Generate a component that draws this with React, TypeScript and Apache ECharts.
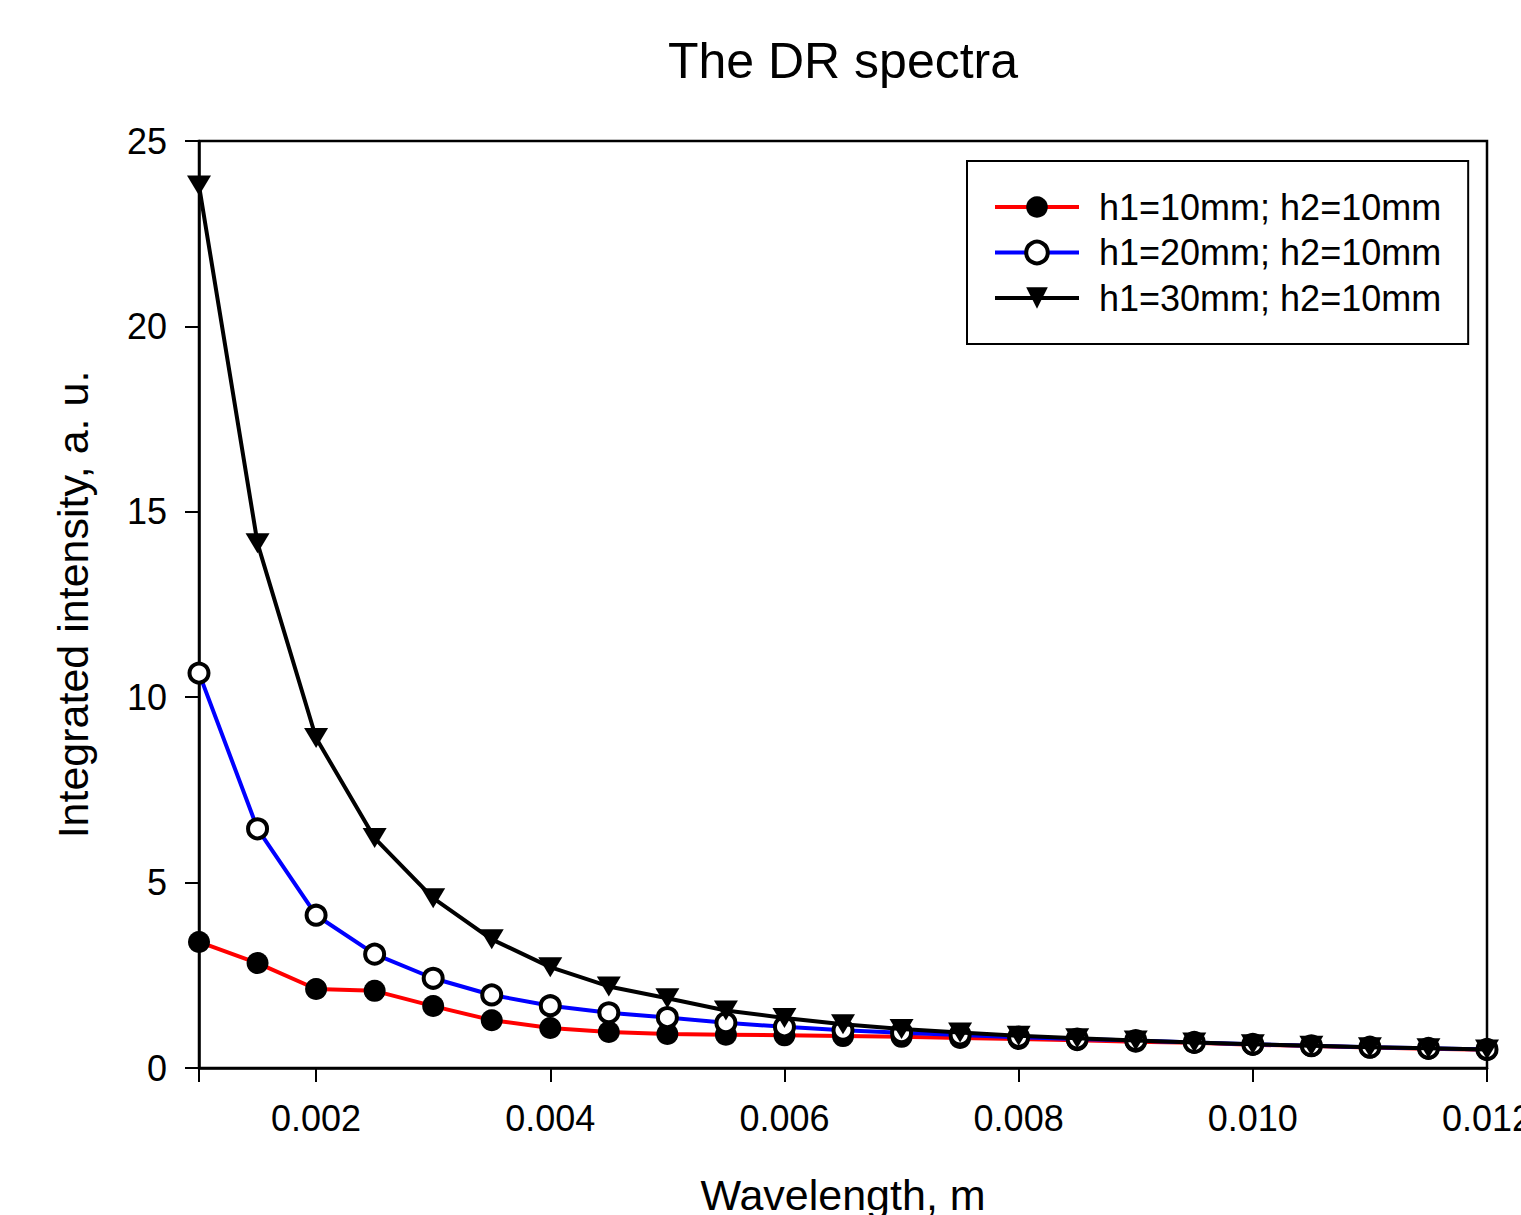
import React, { useEffect, useRef } from "react";
import * as echarts from "echarts";

const wavelengths = [
  0.001, 0.0015, 0.002, 0.0025, 0.003, 0.0035, 0.004, 0.0045, 0.005, 0.0055, 0.006, 0.0065,
  0.007, 0.0075, 0.008, 0.0085, 0.009, 0.0095, 0.01, 0.0105, 0.011, 0.0115, 0.012,
];
const h1_10 = [
  3.4, 2.83, 2.13, 2.08, 1.67, 1.29, 1.08, 0.97, 0.92, 0.9, 0.88, 0.86, 0.84, 0.81, 0.78, 0.75,
  0.71, 0.68, 0.63, 0.59, 0.55, 0.52, 0.49,
];
const h1_20 = [
  10.65, 6.45, 4.12, 3.07, 2.42, 1.97, 1.68, 1.49, 1.36, 1.22, 1.11, 1.02, 0.95, 0.89, 0.83,
  0.78, 0.74, 0.69, 0.64, 0.6, 0.56, 0.53, 0.5,
];
const h1_30 = [
  23.8, 14.15, 8.9, 6.2, 4.58, 3.47, 2.72, 2.2, 1.88, 1.55, 1.35, 1.18, 1.05, 0.96, 0.87, 0.8,
  0.74, 0.69, 0.64, 0.6, 0.56, 0.53, 0.5,
];
const seriesNames = ["h1=10mm; h2=10mm", "h1=20mm; h2=10mm", "h1=30mm; h2=10mm"];

const FONT = "Liberation Sans, Arial, sans-serif";

function pairs(ys: number[]) {
  return wavelengths.map((x, i) => [x, ys[i]]);
}

export default function App() {
  const ref = useRef<HTMLDivElement>(null);
  useEffect(() => {
    if (!ref.current) return;
    const chart = echarts.init(ref.current, null, { renderer: "svg" });
    chart.setOption({
      animation: false,
      backgroundColor: "#ffffff",
      title: {
        text: "The DR spectra",
        left: 843,
        top: 36,
        padding: 0,
        textAlign: "center",
        textStyle: { fontFamily: FONT, fontSize: 50, fontWeight: "normal", color: "#000" },
      },
      grid: {
        left: 199,
        right: 34,
        top: 141,
        bottom: 147,
        outerBoundsMode: "none",
        containLabel: false,
        show: true,
        borderColor: "#000",
        borderWidth: 2.5,
        backgroundColor: "transparent",
      },
      legend: {
        orient: "vertical",
        left: 967,
        top: 161,
        padding: [28, 27, 28, 26],
        itemGap: 9.5,
        itemWidth: 84,
        itemHeight: 27,
        borderColor: "#000",
        borderWidth: 2,
        lineStyle: { width: 4 },
        textStyle: { fontFamily: FONT, fontSize: 36, color: "#000", padding: [0, 0, 0, 15] },
        data: [
          { name: seriesNames[0] },
          { name: seriesNames[1], itemStyle: { borderWidth: 4 } },
          { name: seriesNames[2] },
        ],
      },
      xAxis: {
        type: "value",
        min: 0.001,
        max: 0.012,
        name: "Wavelength, m",
        nameLocation: "middle",
        nameGap: 105,
        nameTextStyle: { fontFamily: FONT, fontSize: 43, color: "#000" },
        axisLine: { show: true, lineStyle: { color: "#000", width: 2.5 } },
        axisTick: { show: true, inside: false, length: 14, lineStyle: { color: "#000", width: 2 } },
        axisLabel: {
          margin: 32,
          fontFamily: FONT,
          fontSize: 36,
          color: "#000",
          formatter: (v: number) => (v < 0.0015 ? "" : v.toFixed(3)),
        },
        splitLine: { show: false },
      },
      yAxis: {
        type: "value",
        min: 0,
        max: 25,
        interval: 5,
        name: "Integrated intensity, a. u.",
        nameLocation: "middle",
        nameGap: 105,
        nameTextStyle: { fontFamily: FONT, fontSize: 43, color: "#000" },
        axisLine: { show: true, lineStyle: { color: "#000", width: 2.5 } },
        axisTick: { show: true, inside: false, length: 14, lineStyle: { color: "#000", width: 2 } },
        axisLabel: { margin: 32, fontFamily: FONT, fontSize: 36, color: "#000" },
        splitLine: { show: false },
      },
      series: [
        {
          name: seriesNames[0],
          type: "line",
          data: pairs(h1_10),
          symbol: "circle",
          symbolSize: 22,
          lineStyle: { color: "#ff0000", width: 4 },
          itemStyle: { color: "#000000" },
          z: 2,
        },
        {
          name: seriesNames[1],
          type: "line",
          data: pairs(h1_20),
          symbol: "circle",
          symbolSize: 19,
          lineStyle: { color: "#0000ff", width: 4 },
          itemStyle: { color: "#ffffff", borderColor: "#000000", borderWidth: 4 },
          z: 3,
        },
        {
          name: seriesNames[2],
          type: "line",
          data: pairs(h1_30),
          symbol: "triangle",
          symbolSize: [24, 20],
          symbolRotate: 180,
          lineStyle: { color: "#000000", width: 4 },
          itemStyle: { color: "#000000" },
          z: 4,
        },
      ],
    });
    return () => chart.dispose();
  }, []);
  return (
    <div
      ref={ref}
      style={{ position: "fixed", left: 0, top: 0, width: 1521, height: 1215, background: "#fff" }}
    />
  );
}
